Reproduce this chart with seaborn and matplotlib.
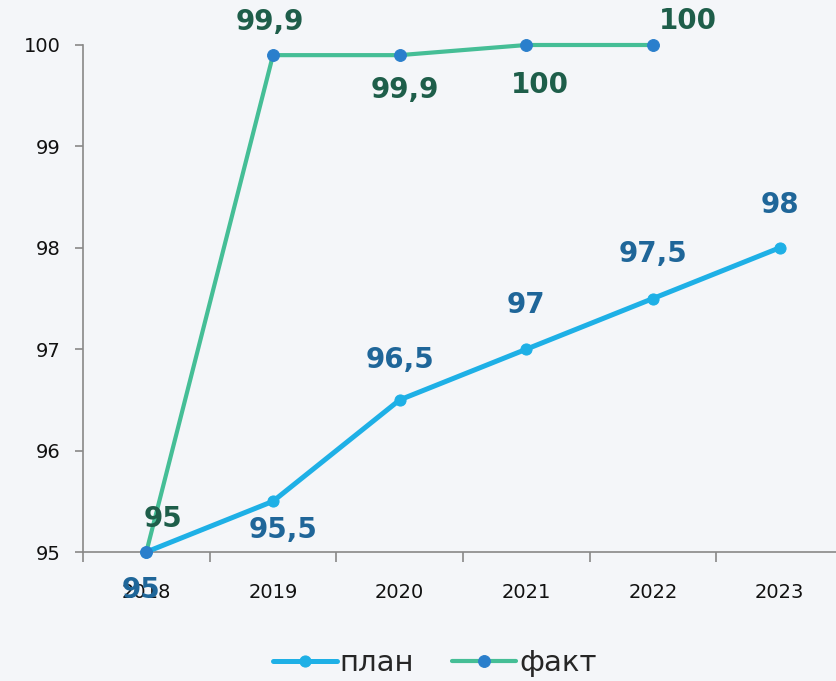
import matplotlib
matplotlib.use("Agg")
import matplotlib.pyplot as plt
from matplotlib.ticker import FixedLocator, NullFormatter
import pandas as pd
import seaborn as sns

# данные графика
YEARS_PLAN = [2018, 2019, 2020, 2021, 2022, 2023]
PLAN = [95, 95.5, 96.5, 97, 97.5, 98]
YEARS_FACT = [2018, 2019, 2020, 2021, 2022]
FACT = [95, 99.9, 99.9, 100, 100]

# смещения подписей (в пунктах) относительно точки
PLAN_OFFSETS = [(-4, -27), (7, -21), (0, 29), (0, 32), (0, 32), (0, 31)]
FACT_OFFSETS = [(12, 24), (-2, 24), (4, -25), (10, -29), (25, 17)]

BG = "#f4f6f9"
PLAN_LINE = "#1eb0e6"
PLAN_TEXT = "#1f6699"
FACT_LINE = "#45be96"
FACT_MARK = "#2a7fcc"
FACT_TEXT = "#1e5e4a"


def fmt(v):
    s = f"{v:g}"
    return s.replace(".", ",")


sns.set_style("white")
plt.rcParams["font.family"] = ["DejaVu Sans"]

plan_df = pd.DataFrame({"year": YEARS_PLAN, "value": PLAN})
fact_df = pd.DataFrame({"year": YEARS_FACT, "value": FACT})

fig = plt.figure(figsize=(8.36, 6.81), dpi=100, facecolor=BG)
ax = fig.add_axes([83 / 836, 1 - 552 / 681, (843 - 83) / 836, (552 - 45) / 681])
ax.set_facecolor(BG)

sns.lineplot(data=plan_df, x="year", y="value", ax=ax, color=PLAN_LINE, linewidth=3.6,
             marker="o", markersize=8, markerfacecolor=PLAN_LINE, markeredgecolor=PLAN_LINE,
             label="план", clip_on=False, zorder=3)
sns.lineplot(data=fact_df, x="year", y="value", ax=ax, color=FACT_LINE, linewidth=3.0,
             marker="o", markersize=8.5, markerfacecolor=FACT_MARK, markeredgecolor=FACT_MARK,
             label="факт", clip_on=False, zorder=4)

for x, y, off in zip(YEARS_PLAN, PLAN, PLAN_OFFSETS):
    ax.annotate(fmt(y), (x, y), xytext=off, textcoords="offset points",
                ha="center", va="center", fontsize=20, fontweight="bold",
                color=PLAN_TEXT, zorder=5)
for x, y, off in zip(YEARS_FACT, FACT, FACT_OFFSETS):
    ax.annotate(fmt(y), (x, y), xytext=off, textcoords="offset points",
                ha="center", va="center", fontsize=20, fontweight="bold",
                color=FACT_TEXT, zorder=5)

ax.set_xlim(2017.5, 2023.5)
ax.set_ylim(95, 100)
ax.set_yticks([95, 96, 97, 98, 99, 100])
ax.set_xticks(YEARS_PLAN)
ax.set_xticklabels([str(y) for y in YEARS_PLAN])
ax.xaxis.set_minor_locator(FixedLocator([y - 0.5 for y in YEARS_PLAN]))
ax.xaxis.set_minor_formatter(NullFormatter())
ax.tick_params(axis="x", which="major", bottom=True, length=0, pad=22, labelsize=14,
               colors="#111111")
ax.tick_params(axis="x", which="minor", bottom=True, length=7, width=1.2, color="#888888",
               direction="out")
ax.tick_params(axis="y", left=True, length=6, width=1.2, color="#888888", pad=10,
               labelsize=14, labelcolor="#111111", direction="out")
ax.set_xlabel("")
ax.set_ylabel("")

for side in ["top", "right"]:
    ax.spines[side].set_visible(False)
for side in ["left", "bottom"]:
    ax.spines[side].set_color("#888888")
    ax.spines[side].set_linewidth(1.2)

ax.legend_.remove()
handles, labels = ax.get_legend_handles_labels()
fig.legend(handles, labels, loc="center", bbox_to_anchor=(0.52, 1 - 663 / 681), ncol=2,
           frameon=False, fontsize=21, handlelength=2.2, handletextpad=0.1, columnspacing=1.3)

fig.savefig("out.png", dpi=100, facecolor=BG)
